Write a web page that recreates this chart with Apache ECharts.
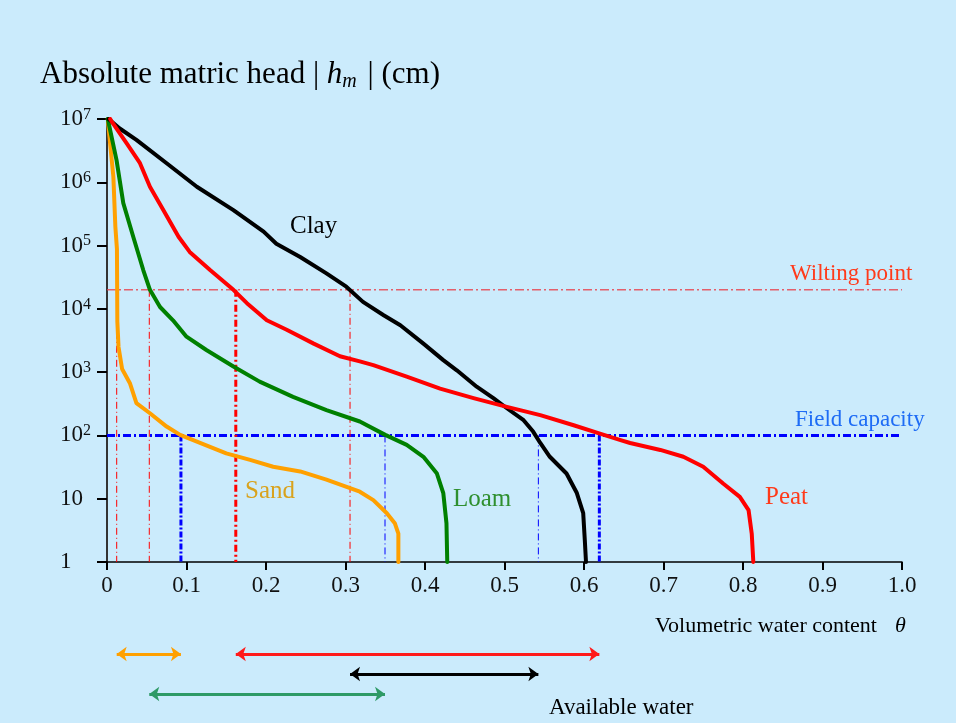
<!DOCTYPE html>
<html>
<head>
<meta charset="utf-8">
<script src="https://cdn.jsdelivr.net/npm/echarts@6/dist/echarts.min.js"></script>
<style>
html,body{margin:0;padding:0;background:#cbebfc;}
#chart{width:956px;height:723px;}
</style>
</head>
<body>
<div id="chart"></div>
<script>
// ---- Data (θ, |h_m| in cm) ----
const sandTheta = [0.001, 0.004, 0.008, 0.0105, 0.0125, 0.013, 0.0145, 0.019, 0.029, 0.037, 0.054, 0.075, 0.092, 0.117, 0.15, 0.18, 0.209, 0.243, 0.276, 0.318, 0.335, 0.352, 0.362, 0.3665, 0.3665];
const sandHead  = [1e7, 4.0e6, 1.23e6, 2.0e5, 8.9e4, 6300, 2500, 1120, 661, 324, 224, 138, 102, 76, 52, 41, 32, 27, 20, 12.9, 9.5, 5.9, 4.1, 2.8, 1];

const loamTheta = [0.001, 0.002, 0.012, 0.0205, 0.033, 0.0457, 0.054, 0.0667, 0.083, 0.1, 0.125, 0.159, 0.192, 0.234, 0.276, 0.318, 0.35, 0.377, 0.398, 0.415, 0.423, 0.427, 0.428];
const loamHead  = [1e7, 9.55e6, 2.24e6, 4.68e5, 1.38e5, 4.07e4, 2.0e4, 1.07e4, 6600, 3630, 2240, 1230, 708, 407, 251, 166, 102, 71, 46, 25, 12.3, 4.1, 1];

const clayTheta = [0.002, 0.004, 0.016, 0.037, 0.075, 0.113, 0.159, 0.197, 0.213, 0.243, 0.276, 0.301, 0.322, 0.348, 0.369, 0.398, 0.423, 0.44, 0.465, 0.486, 0.503, 0.524, 0.536, 0.545, 0.557, 0.578, 0.591, 0.599, 0.601, 0.6025];
const clayHead  = [1e7, 9.55e6, 7.08e6, 4.68e6, 2.0e6, 8.5e5, 3.63e5, 1.66e5, 1.07e5, 6.6e4, 3.63e4, 2.24e4, 1.29e4, 7940, 5500, 2820, 1550, 1070, 589, 389, 269, 174, 115, 76, 46, 25, 12.3, 5.9, 2.24, 1];

const peatTheta = [0.004, 0.006, 0.025, 0.0415, 0.054, 0.071, 0.09, 0.104, 0.13, 0.159, 0.176, 0.201, 0.226, 0.26, 0.293, 0.318, 0.335, 0.377, 0.419, 0.461, 0.503, 0.545, 0.587, 0.62, 0.645, 0.658, 0.696, 0.725, 0.75, 0.775, 0.796, 0.807, 0.811, 0.813];
const peatHead  = [1e7, 9.1e6, 4.07e6, 2.0e6, 8.5e5, 3.63e5, 1.38e5, 7.94e4, 4.07e4, 2.0e4, 1.23e4, 6600, 4680, 2820, 1780, 1480, 1290, 851, 550, 389, 282, 209, 145, 107, 85, 76, 59, 46, 32, 17.4, 10.7, 6.6, 2.8, 1];

// Reference heads
const wiltingHead = 2.0e4;
const fieldCapHead = 100;

// θ at wilting point and field capacity: [sand, loam, clay, peat]
const soilNames = ['Sand', 'Loam', 'Clay', 'Peat'];
const wiltingTheta = [0.0122, 0.0532, 0.3057, 0.162];
const fieldCapTheta = [0.093, 0.3497, 0.5426, 0.6193];
const awRow = [0, 2, 1, 0];   // row of available-water arrows

// Tick labels
const xTickLabels = ['0', '0.1', '0.2', '0.3', '0.4', '0.5', '0.6', '0.7', '0.8', '0.9', '1.0'];
const yTickValues = [1, 10, 100, 1000, 10000, 100000, 1000000, 10000000];
const yTickLabels = ['1', '10', '10{s|2}', '10{s|3}', '10{s|4}', '10{s|5}', '10{s|6}', '10{s|7}'];

const soilColors = ['#ffa000', '#008000', '#000000', '#ff0000'];
const arrowColors = ['#ffa000', '#2e9a66', '#000000', '#ff1a1a'];
const wpThick = [false, false, false, true];
const fcThick = [true, false, false, true];

const FONT = '"Liberation Serif", "Times New Roman", serif';

function pairs(t, h) { return t.map((v, i) => [v, h[i]]); }

const chart = echarts.init(document.getElementById('chart'), null, {renderer: 'canvas'});

const series = [];

// horizontal reference lines
series.push({
  type: 'line', xAxisIndex: 0, yAxisIndex: 0, symbol: 'none', z: 2, silent: true,
  data: [[0, wiltingHead], [1, wiltingHead]],
  lineStyle: {color: 'rgba(232,60,70,0.8)', width: 1.6, type: [9, 3, 2, 3]}
});
series.push({
  type: 'line', xAxisIndex: 0, yAxisIndex: 0, symbol: 'none', z: 2, silent: true,
  data: [[0, fieldCapHead], [1, fieldCapHead]],
  lineStyle: {color: '#0000ff', width: 3, type: [8, 3, 2, 3]}
});

// vertical drop lines
soilNames.forEach((n, i) => {
  series.push({
    type: 'line', xAxisIndex: 0, yAxisIndex: 0, symbol: 'none', z: 2, silent: true,
    data: [[wiltingTheta[i], wiltingHead], [wiltingTheta[i], 1]],
    lineStyle: wpThick[i] ? {color: '#ff0000', width: 3, type: [7, 3, 2, 3]}
                          : {color: '#ff0000', width: 1, type: [7, 3, 1, 3]}
  });
  series.push({
    type: 'line', xAxisIndex: 0, yAxisIndex: 0, symbol: 'none', z: 2, silent: true,
    data: [[fieldCapTheta[i], fieldCapHead], [fieldCapTheta[i], 1]],
    lineStyle: fcThick[i] ? {color: '#0000ff', width: 3, type: [6, 2, 2, 2]}
                          : {color: '#0000ff', width: 1, type: [7, 3, 1, 3]}
  });
});

// retention curves
const curves = [pairs(sandTheta, sandHead), pairs(loamTheta, loamHead), pairs(clayTheta, clayHead), pairs(peatTheta, peatHead)];
curves.forEach((d, i) => {
  series.push({
    name: soilNames[i], type: 'line', xAxisIndex: 0, yAxisIndex: 0, symbol: 'none', z: 5,
    data: d, lineStyle: {color: soilColors[i], width: 4, cap: 'round', join: 'round'}
  });
});

// available water arrows
series.push({
  type: 'line', xAxisIndex: 1, yAxisIndex: 1, symbol: 'none', data: [], silent: true,
  markLine: {
    silent: true, symbol: ['arrow', 'arrow'], symbolSize: [11, 10], label: {show: false},
    data: soilNames.map((n, i) => [
      {coord: [wiltingTheta[i], awRow[i]], lineStyle: {color: arrowColors[i], width: 3, type: 'solid'}, itemStyle: {color: arrowColors[i]}},
      {coord: [fieldCapTheta[i], awRow[i]]}
    ])
  }
});

chart.setOption({
  backgroundColor: '#cbebfc',
  animation: false,
  grid: [
    {left: 107, right: 54, top: 119, bottom: 161},
    {left: 107, right: 54, top: 644, height: 60}
  ],
  xAxis: [
    {
      type: 'value', gridIndex: 0, min: 0, max: 1, interval: 0.1,
      axisLine: {show: true, lineStyle: {color: '#000', width: 1.5}},
      axisTick: {show: true, length: 8, lineStyle: {color: '#000', width: 2}},
      splitLine: {show: false},
      axisLabel: {
        margin: 12, color: '#111', fontFamily: FONT, fontSize: 23,
        formatter: v => xTickLabels[Math.round(v * 10)]
      }
    },
    {type: 'value', gridIndex: 1, min: 0, max: 1, show: false}
  ],
  yAxis: [
    {
      type: 'log', gridIndex: 0, logBase: 10, min: 1, max: 1e7, splitNumber: 7,
      axisLine: {show: true, lineStyle: {color: '#333', width: 2}},
      axisTick: {show: true, length: 10, lineStyle: {color: '#000', width: 2}},
      minorTick: {show: false},
      splitLine: {show: false},
      axisLabel: {
        margin: 47, align: 'left', color: '#111', fontFamily: FONT, fontSize: 23,
        formatter: v => {
          const k = yTickValues.findIndex(t => Math.abs(Math.log10(t) - Math.log10(v)) < 1e-6);
          return k >= 0 ? yTickLabels[k] : '';
        },
        rich: {
          s: {fontSize: 16, fontFamily: FONT, color: '#111', padding: [0, 0, 9, 0]}
        }
      }
    },
    {type: 'category', gridIndex: 1, data: ['r0', 'r1', 'r2'], inverse: true, show: false}
  ],
  series: series,
  graphic: [
    {
      type: 'text', left: 40, top: 59, silent: true,
      style: {
        text: 'Absolute matric head | {i|h}{sub|m} | (cm)',
        fontFamily: FONT, fontSize: 31, fill: '#000',
        rich: {
          i: {fontFamily: FONT, fontSize: 31, fontStyle: 'italic', fill: '#000'},
          sub: {fontFamily: FONT, fontSize: 20, fontStyle: 'italic', fill: '#000', padding: [14, 3, 0, 0]}
        }
      }
    },
    {type: 'text', left: 655, top: 615, silent: true,
     style: {text: 'Volumetric water content{i|θ}', fontFamily: FONT, fontSize: 22, fill: '#000',
             rich: {i: {fontFamily: FONT, fontSize: 22, fontStyle: 'italic', fill: '#000', padding: [0, 0, 0, 18]}}}},
    {type: 'text', left: 549, top: 696, silent: true,
     style: {text: 'Available water', fontFamily: FONT, fontSize: 23, fill: '#000'}},
    {type: 'text', left: 790, top: 262, silent: true,
     style: {text: 'Wilting point', fontFamily: FONT, fontSize: 23, fill: '#ff3a1a'}},
    {type: 'text', left: 795, top: 408, silent: true,
     style: {text: 'Field capacity', fontFamily: FONT, fontSize: 23, fill: '#1e6cf5'}},
    {type: 'text', left: 290, top: 214, silent: true,
     style: {text: 'Clay', fontFamily: FONT, fontSize: 25, fill: '#000'}},
    {type: 'text', left: 245, top: 479, silent: true,
     style: {text: 'Sand', fontFamily: FONT, fontSize: 25, fill: '#d9a21c'}},
    {type: 'text', left: 453, top: 487, silent: true,
     style: {text: 'Loam', fontFamily: FONT, fontSize: 25, fill: '#2f8f2f'}},
    {type: 'text', left: 765, top: 485, silent: true,
     style: {text: 'Peat', fontFamily: FONT, fontSize: 25, fill: '#ff3a1a'}}
  ]
});
</script>
</body>
</html>
